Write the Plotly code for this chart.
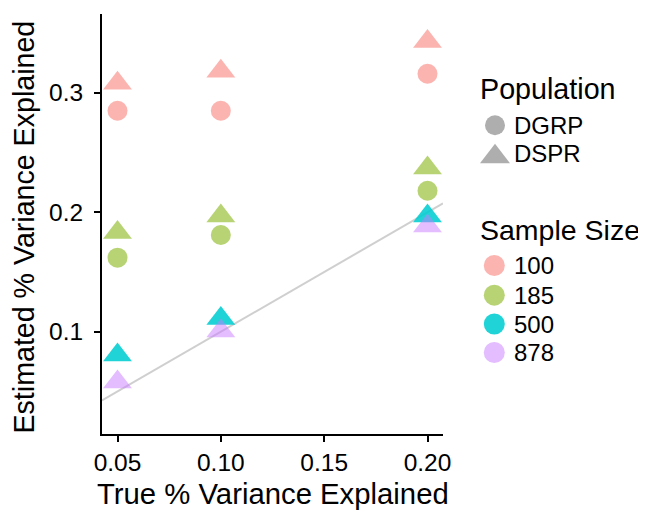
import plotly.graph_objects as go

# ---- data ----
true_var = [0.05, 0.10, 0.20]
sample_sizes = ["100", "185", "500", "878"]
populations = ["DGRP", "DSPR"]
colors = {
    "100": "rgba(248,118,109,0.55)",
    "185": "rgba(124,174,0,0.55)",
    "500": "rgba(0,205,210,0.88)",
    "878": "rgba(199,124,255,0.5)",
}
dgrp = {
    "100": [0.285, 0.285, 0.316],
    "185": [0.162, 0.181, 0.218],
}
dspr = {
    "100": [0.308, 0.318, 0.343],
    "185": [0.183, 0.197, 0.237],
    "500": [0.0805, 0.111, 0.197],
    "878": [0.058, 0.1006, 0.1886],
}
x_ticks = [0.05, 0.10, 0.15, 0.20]
y_ticks = [0.1, 0.2, 0.3]

x_range = [0.0425, 0.2075]
y_range = [0.0144, 0.366]

FONT = "Liberation Sans, Arial, Helvetica, sans-serif"
GRAY_KEY = "rgba(85,85,85,0.68)"

# ---- layout geometry (page pixels; the page has an 8px body offset) ----
OFF = 8
W, H = 646, 511
PL, PR, PT, PB = 102, 443, 14, 434          # plot area in page pixels
LL, LR, LT, LB = 470, 640, 60, 380          # legend-key area in page pixels


def fx(px):
    return (px - OFF) / W


def fy(py):
    return 1 - (py - OFF) / H


fig = go.Figure()

# identity line y = x
fig.add_trace(go.Scatter(
    x=x_range, y=x_range, mode="lines",
    line=dict(color="rgba(195,195,195,0.8)", width=2),
    showlegend=False, hoverinfo="skip", cliponaxis=True))

for s in sample_sizes:
    if s in dgrp:
        fig.add_trace(go.Scatter(
            x=true_var, y=dgrp[s], mode="markers", name=f"DGRP {s}",
            marker=dict(symbol="circle", size=20, color=colors[s], line=dict(width=0)),
            showlegend=False))
for s in sample_sizes:
    fig.add_trace(go.Scatter(
        x=true_var, y=dspr[s], mode="markers", name=f"DSPR {s}",
        marker=dict(symbol="triangle-up", size=25, color=colors[s], line=dict(width=0)),
        showlegend=False))

# ---- manual legend (keys on a pixel-space axis) ----
key_x = 495
pop_rows = [125.3, 153.3]
pop_key_dy = [0, 3.5]
size_rows = [265.5, 295.2, 324.0, 352.5]

fig.add_trace(go.Scatter(
    x=[key_x] * 2, y=[r + d for r, d in zip(pop_rows, pop_key_dy)],
    mode="markers", xaxis="x2", yaxis="y2", cliponaxis=False,
    marker=dict(symbol=["circle", "triangle-up"], size=[20, 26], color=GRAY_KEY,
                line=dict(width=0)),
    showlegend=False, hoverinfo="skip"))
fig.add_trace(go.Scatter(
    x=[key_x - 0.7] * len(sample_sizes), y=size_rows,
    mode="markers", xaxis="x2", yaxis="y2", cliponaxis=False,
    marker=dict(symbol="circle", size=21, color=[colors[s] for s in sample_sizes],
                line=dict(width=0)),
    showlegend=False, hoverinfo="skip"))


def label(text, px, py, size, **kw):
    d = dict(text=text, x=fx(px), y=fy(py), xref="paper", yref="paper",
             xanchor="left", yanchor="middle", showarrow=False,
             font=dict(size=size, color="black", family=FONT))
    d.update(kw)
    return d


annotations = [label("Population", 478, 88.8, 28.7)]
for name, r in zip(populations, pop_rows):
    annotations.append(label(name, 512, r, 24))
annotations.append(label("Sample Size", 478, 229.7, 28.5))
for s, r in zip(sample_sizes, size_rows):
    annotations.append(label(s, 512, r, 24))
annotations.append(label("True % Variance Explained", 272.5, 493, 29.3, xanchor="center"))
annotations.append(label("Estimated % Variance Explained", 23, 227.5, 28.6,
                         xanchor="center", textangle=-90))

axis_common = dict(
    showgrid=False, zeroline=False, showline=True, linecolor="black", linewidth=2,
    ticks="outside", ticklen=6, tickwidth=2, tickcolor="black", automargin=False,
    tickfont=dict(size=24.5, color="black", family=FONT),
)

fig.update_layout(
    width=W, height=H,
    margin=dict(l=0, r=0, t=0, b=0),
    paper_bgcolor="white", plot_bgcolor="white",
    font=dict(family=FONT, color="black"),
    xaxis=dict(range=x_range, domain=[fx(PL), fx(PR)], anchor="y",
               tickvals=x_ticks, ticktext=[f"{v:.2f}" for v in x_ticks],
               ticklabelstandoff=0, **axis_common),
    yaxis=dict(range=y_range, domain=[fy(PB), fy(PT)], anchor="x",
               tickvals=y_ticks, ticktext=[f"{v:.1f}" for v in y_ticks],
               ticklabelstandoff=6, **axis_common),
    xaxis2=dict(range=[LL, LR], domain=[fx(LL), fx(LR)], anchor="y2",
                visible=False, fixedrange=True),
    yaxis2=dict(range=[LB, LT], domain=[fy(LB), fy(LT)], anchor="x2",
                visible=False, fixedrange=True),
    annotations=annotations,
    showlegend=False,
)

fig.write_html("out.html")
